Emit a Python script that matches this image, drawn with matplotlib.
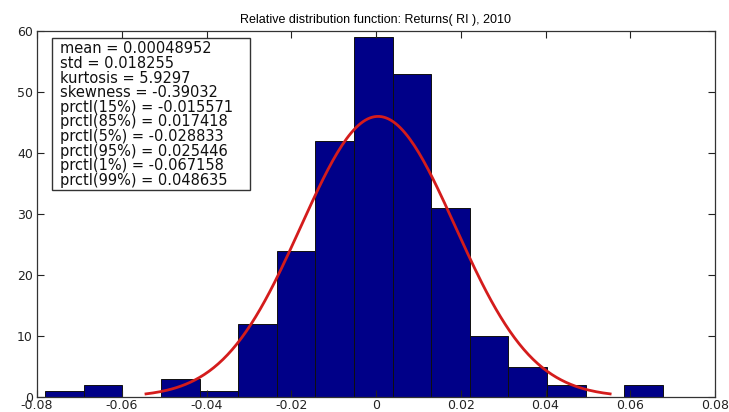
import numpy as np
import matplotlib
matplotlib.use('Agg')
import matplotlib.pyplot as plt
from matplotlib.patches import Rectangle

plt.rcParams['font.family'] = ['Liberation Sans', 'DejaVu Sans']

# histogram (16 bins)
bin_lo = -0.0781
bin_hi = 0.0677
counts = [1, 2, 0, 3, 1, 12, 24, 42, 59, 53, 31, 10, 5, 2, 0, 2]

# fitted normal curve
mu = 0.00048952
sigma = 0.018255
peak = 46.0

stat_names = ['mean', 'std', 'kurtosis', 'skewness', 'prctl(15%)', 'prctl(85%)',
              'prctl(5%)', 'prctl(95%)', 'prctl(1%)', 'prctl(99%)']
stat_values = ['0.00048952', '0.018255', '5.9297', '-0.39032', '-0.015571',
               '0.017418', '-0.028833', '0.025446', '-0.067158', '0.048635']

fig = plt.figure(figsize=(7.29, 4.12), dpi=100)
ax = fig.add_axes([37 / 729, 1 - 397 / 412, 678 / 729, 366 / 412])

edges = np.linspace(bin_lo, bin_hi, len(counts) + 1)
ax.bar(edges[:-1], counts, width=np.diff(edges), align='edge',
       color='#000088', edgecolor='#101010', linewidth=0.7)

xs = np.linspace(mu - 3 * sigma, mu + 3 * sigma, 200)
ys = peak * np.exp(-0.5 * ((xs - mu) / sigma) ** 2)
ax.plot(xs, ys, color='#d41c1c', linewidth=2)

ax.set_xlim(-0.08, 0.08)
ax.set_ylim(0, 60)
ax.set_xticks(np.arange(-0.08, 0.081, 0.02))
ax.set_xticklabels(['-0.08', '-0.06', '-0.04', '-0.02', '0', '0.02', '0.04', '0.06', '0.08'],
                   family='DejaVu Sans')
ax.set_yticks(range(0, 61, 10))
ax.set_yticklabels([str(v) for v in range(0, 61, 10)], family='DejaVu Sans')
ax.tick_params(direction='in', top=True, right=True, length=5, width=0.8,
               labelsize=9, colors='#222222')
ax.tick_params(axis='x', pad=1.5)
ax.tick_params(axis='y', pad=3)
for s in ax.spines.values():
    s.set_color('#333333')
    s.set_linewidth(0.9)

ax.set_title('Relative distribution function: Returns( RI ), 2010', fontsize=9, pad=6)

# statistics box
ax.add_patch(Rectangle((0.0221, 0.5656), 0.2921, 0.4153, transform=ax.transAxes,
                       facecolor='white', edgecolor='#333333', linewidth=1, zorder=4))
lines = '\n'.join(f'{n} = {v}' for n, v in zip(stat_names, stat_values))
ax.text(0.0339, 0.972, lines, transform=ax.transAxes, va='top', ha='left',
        fontsize=10.5, linespacing=0.97, color='#111111', family='DejaVu Sans', zorder=5)

fig.savefig('out.png', dpi=100)
